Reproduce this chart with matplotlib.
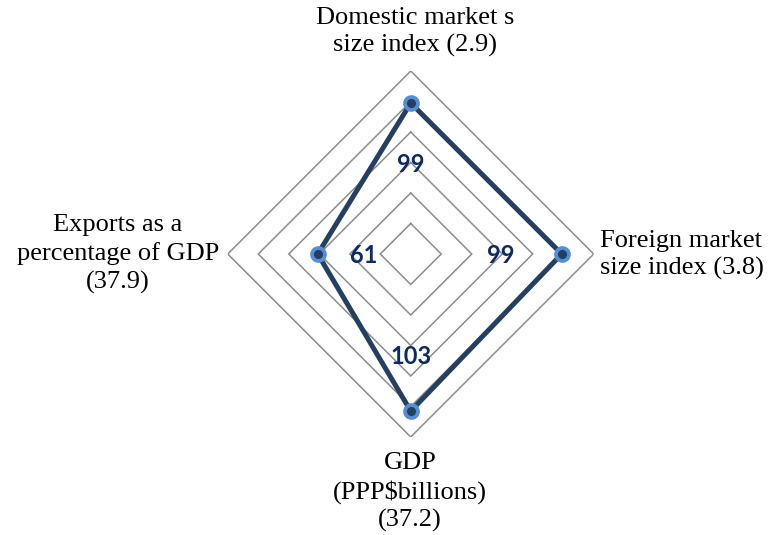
import numpy as np
import matplotlib
matplotlib.use("Agg")
from matplotlib import pyplot as plt

# data
categories = [
    "Domestic market s\nsize index (2.9)",
    "Foreign market\nsize index (3.8)",
    "GDP\n(PPP$billions)\n(37.2)",
    "Exports as a\npercentage of GDP\n(37.9)",
]
values = [99, 99, 103, 61]
ring_levels = [20, 40, 60, 80, 100, 120]

# where the data labels sit (radius in data units), as in the original
label_radius = [60, 59, 66, 31]

LINE_COLOR = "#243F60"
MARKER_EDGE = "#558ED5"
LABEL_COLOR = "#0B2A66"
GRID_COLOR = "#8C8C8C"

fig = plt.figure(figsize=(7.72, 5.35), dpi=100)
ax = fig.add_axes([0.2950, 0.1832, 0.4741, 0.6841], projection="polar")
ax.set_theta_offset(np.pi / 2)
ax.set_theta_direction(-1)

angles = np.linspace(0, 2 * np.pi, len(categories), endpoint=False)
closed_angles = np.append(angles, angles[0])

# diamond shaped rings instead of circles
for lvl in ring_levels:
    ax.plot(closed_angles, [lvl] * len(closed_angles), color=GRID_COLOR,
            linewidth=1.1, zorder=1, solid_joinstyle="miter")

ax.plot(closed_angles, values + values[:1], color=LINE_COLOR, linewidth=3.6,
        zorder=3, solid_joinstyle="miter")
ax.plot(angles, values, linestyle="none", marker="o", markersize=9.3,
        markerfacecolor=LINE_COLOR, markeredgecolor=MARKER_EDGE,
        markeredgewidth=2.7, zorder=4)

for a, v, r in zip(angles, values, label_radius):
    ax.text(a, r, str(v), ha="center", va="center_baseline", fontsize=17,
            fontweight="bold", family="Lato", color=LABEL_COLOR, zorder=5)

ax.set_ylim(0, 120)
ax.grid(False)
ax.spines["polar"].set_visible(False)
ax.set_xticks([])
ax.set_yticks([])
ax.patch.set_alpha(0)

# category names around the diamond
serif = "Liberation Serif"
fs = 19
ls = 1.32
fig.text(415 / 772, 1 - 32 / 535, categories[0], ha="center", va="center",
         fontsize=fs, family=serif, linespacing=ls)
fig.text(600 / 772, 1 - 255 / 535, categories[1], ha="left", va="center",
         fontsize=fs, family=serif, linespacing=ls)
fig.text(410 / 772, 1 - 492 / 535, categories[2], ha="center", va="center",
         fontsize=fs, family=serif, linespacing=ls)
fig.text(118 / 772, 1 - 254 / 535, categories[3], ha="center", va="center",
         fontsize=fs, family=serif, linespacing=ls)

fig.savefig("out.png", dpi=100)
